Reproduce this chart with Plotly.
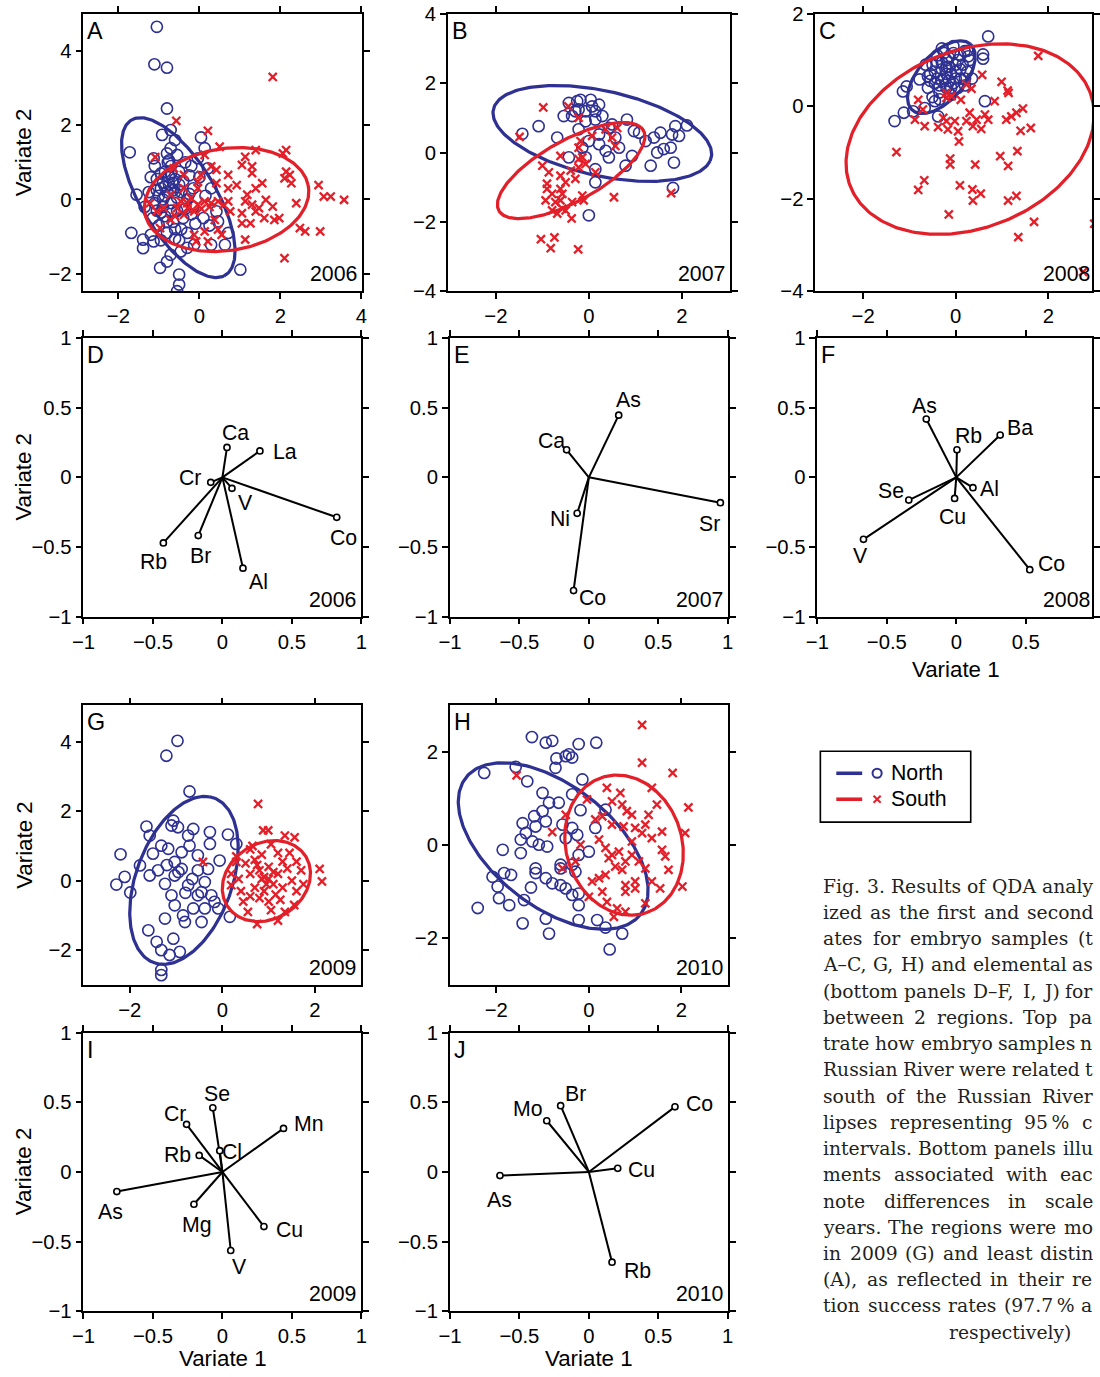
import numpy as np
import plotly.graph_objects as go

W, H = 1100, 1377
BLUE = '#2e3192'
RED = '#e3202a'
SANS = 'Liberation Sans, Arial, Helvetica, sans-serif'
SERIF = 'DejaVu Serif, serif'

# ---------------- DATA: canonical variate scores (top panels) ----------------
a_north = [(-1.05,4.65),(-1.11,3.64),(-0.80,3.55),(-0.80,2.45),(-0.71,1.87),(-0.92,1.74),(0.04,1.67),
           (-1.72,1.27),(-1.13,1.11),(-0.80,1.24),(-0.71,1.38),(0.13,1.38),(-1.55,0.13),(-1.68,-0.90),
           (-1.39,-1.08),(-1.39,-1.31),(-1.13,-1.13),(-0.97,-1.84),(-0.50,-2.02),(-0.50,-2.29),(-0.55,-2.47),
           (1.01,-1.89),(0.71,-0.90),(0.42,-0.32),(0.29,0.30),(0.21,0.84),(-0.04,1.11),(-0.71,-1.49),
           (-0.80,-1.67),(-0.46,-1.40),(-0.13,-1.22),(0.29,-1.22),(0.63,-1.22),(0.46,-0.59),
           (-0.95,0.3),(-0.85,0.1),(-0.75,0.4),(-0.9,-0.2),(-1.05,0.55),(-0.7,0.7),(-0.6,0.2),(-0.55,-0.3),
           (-0.4,0.5),(-0.3,0.0),(-0.2,-0.4),(-1.15,-0.5),(-1.0,-0.7),(-0.8,-0.9),(-0.65,-0.6),(-0.45,-0.8),
           (-0.3,-0.9),(-0.15,0.3),(0.0,0.6),(-1.25,0.2),(-1.35,-0.2),(-0.35,1.0),(-0.55,1.2),(-0.78,1.0),
           (-0.85,0.75),(-0.15,-0.2),(0.1,-0.5),(0.15,0.1),(-0.5,-1.1),(-1.1,0.9),(-1.2,-0.95),(-0.95,-1.1),
           (-0.6,-1.05),(0.25,-0.7),(-1.0,0.1),(-0.9,0.45),(-0.7,-0.1),(-0.8,0.2),(-1.1,-0.1),(-0.65,0.45),
           (-0.5,0.75),(-0.25,0.65),(-1.2,0.6),(-0.4,-0.5),(-0.85,-0.45),(-0.3,-1.3),(-0.6,1.6),(-0.75,1.05),
           (-0.9,0.0),(-0.95,-0.35),(-0.75,0.6),(-0.65,0.25),(-1.05,0.25),(-0.85,0.35),(-0.7,-0.3),
           (-0.55,0.05),(-0.6,0.55),(-0.45,0.2),(-0.35,-0.25),(-0.8,-0.6),(-1.05,-0.3),(-0.95,0.7),
           (-0.7,0.9),(-0.5,0.4),(-0.25,0.15),(-0.2,0.9),(-0.1,-0.65),(-0.6,-0.8)]
a_south = [(1.81,3.30),(-0.57,2.12),(0.21,1.85),(0.50,1.42),(-1.09,1.14),(2.14,1.33),(2.06,1.24),(1.39,1.33),
           (1.13,1.15),(1.05,0.93),(1.30,0.89),(1.30,0.71),(2.14,0.75),(2.23,0.66),(2.27,0.44),(2.10,0.57),
           (2.94,0.39),(3.07,0.08),(3.24,0.08),(3.57,-0.01),(2.39,-0.10),(2.48,-0.77),(2.61,-0.86),(2.98,-0.86),
           (2.10,-1.58),(1.97,-0.50),(1.81,-0.19),(1.64,-0.01),(1.85,-0.55),(1.60,-0.50),(1.55,0.44),(1.39,0.30),
           (1.18,0.13),(1.13,-0.05),(1.30,-0.14),(1.47,-0.23),(1.39,-0.32),(1.05,-0.37),(1.05,-0.64),(1.26,-0.64),
           (1.13,-1.08),(0.76,-0.32),(0.92,0.39),(0.71,0.30),(0.71,0.66),(0.42,0.80),(0.29,0.89),(0.04,0.66),
           (-0.04,0.48),(0.42,0.44),(0.71,-0.05),(0.29,-0.10),(0.38,-0.55),(0.46,-0.81),(0.55,-0.95),(0.13,-0.86),
           (0.21,-1.13),(-0.13,-0.95),(-0.08,-1.13),(-0.38,-0.41),(-0.55,-0.23),(-0.71,0.13),(-0.88,-0.23),
           (-0.71,-0.55),(-0.97,-0.77),(-1.05,-0.32),(-1.22,-0.10),(-0.38,0.30),(-0.21,0.04),(-0.04,-0.14),
           (0.13,-0.05),(0.46,-0.05),(-0.46,-0.05),(-0.29,-0.23),(-0.13,-0.32),(-0.63,0.84),(0.13,1.20),
           (-0.38,0.66),(-0.04,0.30),(0.05,-0.25),(0.25,-0.2),(-0.3,-0.1),(-0.6,-0.45),(0.6,-0.15)]

b_north = [(-1.43,0.54),(-1.08,0.76),(-0.68,0.43),(-0.54,1.05),(-0.43,1.43),(-0.25,1.48),(-0.18,1.52),
           (0.04,1.52),(0.07,1.33),(-0.22,1.24),(-0.36,1.05),(-0.43,-0.14),(-0.22,0.67),(-0.07,0.90),(0.14,0.95),
           (0.29,1.05),(0.22,0.52),(0.43,0.71),(0.36,0.05),(0.22,0.24),(0.0,0.33),(0.57,0.43),(0.65,0.14),
           (0.82,0.95),(0.97,0.62),(0.93,-0.10),(0.79,-0.38),(0.14,-0.86),(0.0,-1.81),(1.33,-0.38),(1.22,0.33),
           (1.40,0.43),(1.54,0.57),(1.47,0.0),(1.61,0.10),(1.76,0.14),(1.79,0.52),(1.86,0.76),(1.94,0.48),
           (2.11,0.78),(1.83,-0.29),(1.81,-1.02),(1.08,0.57),(0.50,0.81),(-0.14,0.14),(-0.07,-0.14),(0.14,-0.48),
           (-0.29,1.19),(-0.07,1.19),(0.14,1.19),(0.22,1.38),(0.43,-0.14)]
b_south = [(-0.98,1.30),(-1.49,0.45),(-0.44,1.33),(-0.22,1.0),(0.07,0.48),(0.36,0.67),(0.50,0.43),(0.61,0.71),
           (0.57,0.19),(-0.18,0.33),(-0.22,0.14),(-0.14,-0.14),(-0.07,-0.33),(0.14,-0.57),(-0.22,-0.43),
           (-0.61,-0.10),(-1.0,-0.38),(-0.86,-0.57),(-0.61,-0.67),(-0.39,-0.52),(-0.29,-0.76),(-0.90,-0.90),
           (-0.90,-1.05),(-0.61,-1.05),(-0.57,-1.19),(-0.61,-1.38),(-0.93,-1.38),(-0.72,-1.43),(-0.79,-1.67),
           (-0.57,-1.62),(-0.50,-1.67),(-0.68,-1.76),(-0.36,-1.43),(-0.37,-1.90),(-0.14,-1.24),(-0.11,-1.38),
           (0.54,-1.29),(-1.03,-2.50),(-0.74,-2.45),(-0.82,-2.76),(-0.23,-2.79),(1.77,-1.17),(-0.79,-1.19),
           (-0.50,-0.86),(-0.22,-0.19)]

c_north = [(0.70,1.51),(0.59,1.12),(0.59,1.03),(0.63,0.11),(-1.32,-0.32),(-1.12,-0.14),(-0.92,-0.11),
           (-1.14,0.32),(-1.06,0.43),(-0.78,0.58),(-0.45,0.11),(-0.38,-0.22),(-0.67,-0.04),(0.19,1.19),
           (0.27,1.08),(-0.5,0.9),(-0.4,0.6),(-0.3,0.8),(-0.2,1.0),(-0.1,0.7),(0.0,0.9),(0.1,0.6),(-0.2,0.4),
           (-0.35,0.3),(-0.45,0.5),(-0.55,0.7),(0.15,0.9),(-0.05,1.15),(-0.25,1.15),(0.05,0.4),(-0.15,0.55),
           (0.2,0.45),(-0.6,0.4),(-0.3,1.25),(0.25,0.75),(-0.4,0.95),(-0.1,0.25),(0.0,0.75),(-0.2,0.7),
           (-0.5,0.2),(0.3,1.0),(0.35,0.6),(-0.65,0.9),(-0.05,1.3),(0.1,1.1),(-0.3,0.55),(-0.15,0.85),
           (-0.45,0.75),(-0.35,0.45),(-0.25,0.6),(-0.15,1.05),(-0.05,0.5),(0.05,1.0),(0.1,0.8),(-0.3,0.95),
           (-0.55,0.55),(-0.4,1.1),(0.2,0.6),(-0.2,0.85),(-0.1,0.4),(0.0,0.6),(-0.6,0.65),(0.25,1.2),(-0.35,0.15)]
c_south = [(1.78,1.09),(0.57,0.68),(0.99,0.53),(1.12,0.34),(1.14,0.29),(0.84,0.11),(0.23,0.47),(0.34,0.38),
           (-0.20,0.29),(-0.09,0.22),(0.11,0.14),(-0.20,0.18),(-0.81,0.14),(-0.71,-0.07),(-0.88,-0.29),
           (-0.67,-0.43),(-0.38,-0.45),(-0.27,-0.25),(-0.20,-0.32),(-0.17,-0.50),(0.05,-0.54),(0.07,-0.76),
           (-0.02,-0.32),(0.23,-0.32),(0.37,-0.43),(0.30,-0.14),(0.45,-0.29),(0.55,-0.49),(0.63,-0.18),
           (0.70,-0.29),(1.09,-0.29),(1.20,-0.22),(1.31,-0.14),(1.45,-0.05),(1.40,-0.53),(1.62,-0.47),
           (-1.28,-0.99),(-0.12,-1.13),(-0.12,-1.26),(0.42,-1.26),(0.96,-1.08),(1.13,-1.29),(1.33,-0.97),
           (-0.68,-1.60),(-0.81,-1.81),(0.09,-1.71),(0.36,-1.80),(0.54,-1.89),(0.37,-2.04),(1.13,-2.04),
           (1.31,-1.94),(-0.15,-2.34),(1.69,-2.50),(1.35,-2.83),(2.99,-2.54),(2.75,-3.58)]

g_north = [(-0.97,4.03),(-1.21,3.60),(-0.71,2.57),(-2.20,0.76),(-2.11,0.11),(-2.29,-0.11),(-1.99,-0.34),
           (-1.64,1.56),(-1.57,1.30),(-1.10,1.59),(-1.06,1.73),(-0.96,1.54),(-0.63,1.49),(-0.27,1.40),
           (-0.27,1.06),(0.12,1.33),(0.30,1.06),(-0.06,0.58),(-0.74,1.30),(-0.71,1.01),(-1.32,1.01),
           (-1.50,0.78),(-1.78,0.44),(-1.57,0.15),(-1.39,0.30),(-1.24,-0.09),(-1.03,0.54),(-0.88,0.34),
           (-0.53,0.30),(-0.38,-0.04),(-0.24,-0.42),(-0.09,-0.80),(-0.17,-0.61),(-0.45,-1.19),(-0.63,-0.80),
           (-0.81,-1.19),(-1.24,-1.09),(-1.60,-1.43),(-1.42,-1.76),(-1.32,-2.00),(-1.06,-1.67),(-1.14,-2.14),
           (-0.92,-2.05),(-1.32,-2.57),(-1.32,-2.72),(0.16,-1.04),(-1.10,-0.42),(-1.03,-0.71),(-0.85,-1.00),
           (-0.53,-0.42),(-0.38,-0.80),(-0.45,-0.33),(-0.74,-0.13),(-1.03,0.15),(-0.88,0.82),(-1.17,0.92),
           (-0.53,0.73),(-0.31,0.34),(-0.95,0.25),(-0.65,0.05),(-0.8,-0.35),(-1.2,0.45)]
g_south = [(0.77,2.21),(0.88,1.45),(0.99,1.45),(1.35,1.30),(1.56,1.25),(-0.42,0.54),(2.10,0.34),(2.15,-0.02),
           (0.19,0.20),(0.19,-0.13),(0.30,0.54),(0.5,0.5),(0.6,0.2),(0.7,0.6),(0.8,0.3),(0.9,0.1),(1.0,0.4),
           (1.1,-0.1),(1.2,0.2),(0.7,-0.2),(0.8,-0.5),(0.9,-0.3),(1.0,-0.6),(1.15,-0.4),(1.3,-0.2),(1.4,0.35),
           (1.5,0.0),(1.6,-0.3),(1.7,0.3),(1.45,0.8),(1.2,0.8),(0.6,0.9),(0.45,-0.6),(0.55,-0.9),(0.75,-1.25),
           (1.2,-1.15),(1.35,-0.9),(1.55,-0.7),(0.35,0.05),(0.4,-0.3),(0.85,0.75),(1.05,1.05),(0.65,1.0),
           (1.3,0.55),(1.0,0.05),(0.95,-0.1),(0.85,0.05),(1.1,0.25),(0.75,0.45),(0.6,-0.45),(1.25,-0.55),
           (1.6,0.55),(1.75,-0.1),(0.3,0.7),(1.05,-0.85)]

h_north = [(-1.23,2.32),(-0.93,2.20),(-0.79,2.24),(-0.22,2.17),(0.16,2.20),(-0.43,1.95),(-0.70,1.86),
           (-0.72,1.66),(-0.50,1.91),(-0.36,1.88),(-2.26,1.55),(-1.58,1.68),(-1.33,1.37),(-0.14,1.41),
           (-1.0,1.12),(-0.36,1.09),(-0.86,0.91),(-0.65,0.91),(-0.18,0.75),(-1.0,0.73),(-1.18,0.62),
           (-1.43,0.47),(-1.15,0.40),(-0.93,0.51),(-0.57,0.44),(-0.36,0.37),(-0.25,0.22),(0.14,0.37),
           (0.36,0.76),(-1.36,0.26),(-1.47,0.12),(-1.22,0.08),(-1.08,0.01),(-0.90,-0.03),(-1.86,-0.10),
           (-1.47,-0.17),(-1.15,-0.50),(-1.15,-0.60),(-2.08,-0.68),(-1.83,-0.60),(-1.68,-0.64),(-1.97,-0.89),
           (-1.94,-1.14),(-1.72,-1.29),(-2.40,-1.35),(-1.40,-1.18),(-1.25,-0.91),(-0.93,-0.71),(-0.79,-0.82),
           (-0.61,-0.86),(-0.50,-0.93),(-0.36,-1.07),(-0.22,-1.04),(-0.61,-0.42),(-0.36,-0.42),(0.0,-0.14),
           (-0.22,-1.29),(-0.22,-1.61),(-1.43,-1.68),(-0.93,-1.58),(-0.86,-1.90),(0.18,-1.61),(0.36,-1.77),
           (0.72,-1.90),(0.45,-2.24),(-0.61,-0.50),(-0.29,-0.57),(-0.50,0.15),(-0.22,-0.21)]
h_south = [(1.15,2.58),(1.15,1.77),(1.81,1.55),(-1.56,1.50),(2.15,0.81),(2.08,0.26),(2.02,-0.89),(-0.79,0.28),
           (-0.57,-0.50),(-0.50,0.65),(0.39,1.23),(0.68,1.12),(0.50,0.94),(0.82,0.73),(0.72,0.87),(0.93,0.65),
           (0.14,0.55),(0.29,0.62),(0.50,0.44),(0.75,0.40),(1.0,0.37),(1.22,0.44),(1.36,1.23),(1.47,0.87),
           (1.29,0.65),(1.15,0.26),(1.36,0.15),(0.93,0.08),(1.58,0.29),(1.72,-0.53),(1.54,-0.93),(1.36,-0.78),
           (1.22,-0.50),(1.08,-0.35),(0.93,-0.21),(0.79,-0.35),(0.65,-0.14),(0.50,-0.21),(0.36,-0.06),
           (0.43,-0.28),(0.57,-0.46),(0.72,-0.53),(0.36,-0.64),(0.22,-0.71),(0.07,-0.78),(-0.18,0.01),
           (-0.29,-0.35),(-0.04,0.98),(1.0,-0.93),(0.79,-0.86),(0.79,-1.0),(0.29,-1.0),(0.39,-1.22),(0.61,-1.36),
           (0.54,-1.54),(0.79,-1.43),(1.22,-1.25),(1.0,-0.78),(1.58,-0.10),(0.22,0.12),(0.0,-1.11),(1.65,-0.24)]

# 95% confidence ellipses: (centre v1, centre v2, semi-major, semi-minor, rotation deg)
ell_a_north = (-0.52, 0.05, 2.39, 0.94, -61.8)
ell_a_south = (0.67, 0.0, 2.05, 1.37, 11.0)
ell_b_north = (0.29, 0.55, 2.45, 1.20, -18.8)
ell_b_south = (-0.38, -0.52, 1.95, 0.80, 39.6)
ell_c_north = (-0.31, 0.63, 0.95, 0.50, 48.7)
ell_c_south = (0.31, -0.71, 2.78, 1.92, 21.8)
ell_g_north = (-0.83, 0.01, 2.47, 1.06, 77.1)
ell_g_south = (0.95, -0.01, 1.20, 0.91, 69.0)
ell_h_north = (-0.77, -0.02, 2.39, 1.30, -37.8)
ell_h_south = (0.76, 0.0, 1.53, 1.25, -71.8)

# ---------------- DATA: elemental loadings (bottom panels) ----------------
d_elem = ['Ca', 'La', 'Cr', 'V', 'Co', 'Rb', 'Br', 'Al']
d_v1 = [0.033, 0.27, -0.084, 0.069, 0.823, -0.425, -0.174, 0.148]
d_v2 = [0.215, 0.19, -0.036, -0.079, -0.287, -0.471, -0.418, -0.652]
e_elem = ['As', 'Ca', 'Ni', 'Co', 'Sr']
e_v1 = [0.215, -0.16, -0.084, -0.11, 0.947]
e_v2 = [0.447, 0.198, -0.258, -0.813, -0.182]
f_elem = ['As', 'Rb', 'Ba', 'Se', 'Al', 'Cu', 'V', 'Co']
f_v1 = [-0.216, 0.005, 0.316, -0.342, 0.12, -0.012, -0.668, 0.529]
f_v2 = [0.419, 0.198, 0.304, -0.163, -0.074, -0.151, -0.445, -0.663]
i_elem = ['Se', 'Cr', 'Mn', 'Rb', 'Cl', 'As', 'Mg', 'Cu', 'V']
i_v1 = [-0.069, -0.258, 0.44, -0.167, -0.019, -0.76, -0.205, 0.299, 0.06]
i_v2 = [0.461, 0.342, 0.313, 0.119, 0.153, -0.141, -0.232, -0.392, -0.564]
j_elem = ['Br', 'Mo', 'Co', 'Cu', 'As', 'Rb']
j_v1 = [-0.203, -0.303, 0.62, 0.208, -0.64, 0.167]
j_v2 = [0.476, 0.368, 0.468, 0.026, -0.026, -0.648]

years = ['2006', '2007', '2008', '2009', '2010']

caption_lines = [
    'Fig. 3. Results of QDA analy',
    'ized as the first and second',
    'ates for embryo samples (t',
    'A–C, G, H) and elemental as',
    '(bottom panels D–F, I, J) for',
    'between 2 regions. Top pa',
    'trate how embryo samples n',
    'Russian River were related t',
    'south of the Russian River',
    'lipses representing 95\u2009% c',
    'intervals. Bottom panels illu',
    'ments associated with eac',
    'note differences in scale',
    'years. The regions were mo',
    'in 2009 (G) and least distin',
    '(A), as reflected in their re',
    'tion success rates (97.7\u2009% a',
]
caption_last = 'respectively)'

# label pixel offsets (style) for element names
off_d = {'Ca': (8, 14), 'La': (25, -1), 'Cr': (-20, 4), 'V': (13, -14), 'Co': (7, -20),
         'Rb': (-10, -19), 'Br': (2, -20), 'Al': (15, -14)}
off_e = {'As': (10, 15), 'Ca': (-15, 9), 'Ni': (-17, -6), 'Co': (19, -7), 'Sr': (-11, -21)}
off_f = {'As': (-2, 13), 'Rb': (11, 14), 'Ba': (20, 7), 'Se': (-18, 9), 'Al': (16, -1),
         'Cu': (-2, -18), 'V': (-3, -16), 'Co': (21, 6)}
off_i = {'Se': (4, 14), 'Cr': (-11, 10), 'Mn': (25, 4), 'Rb': (-21, 0), 'Cl': (12, -1),
         'As': (-6, -20), 'Mg': (3, -20), 'Cu': (25, -3), 'V': (9, -16)}
off_j = {'Br': (15, 12), 'Mo': (-18, 12), 'Co': (24, 3), 'Cu': (23, -2), 'As': (0, -24), 'Rb': (25, -9)}

# ---------------- placement helpers (target-image pixels -> page) ----------------
OX, OY, S = 10.2, 10.2, 0.986


def fx(x):
    return (x - OX) / S / W


def fy(y):
    return 1 - (y - OY) / S / H


def k(v):
    return v / S


fig = go.Figure()
layout = dict(width=W, height=H, autosize=False, margin=dict(l=0, r=0, t=0, b=0, pad=0),
              paper_bgcolor='white', plot_bgcolor='rgba(0,0,0,0)', showlegend=False,
              font=dict(family=SANS, color='black'))
annotations = []
shapes = []


def axis_common():
    return dict(showline=True, linecolor='black', linewidth=k(1.6), mirror='ticks', ticks='outside',
                ticklen=k(6), tickwidth=k(1.5), tickcolor='black', showgrid=False, zeroline=False,
                tickfont=dict(family=SANS, size=k(20), color='black'), fixedrange=True)


def akey(prefix, idx):
    return prefix if idx == 1 else '%s%d' % (prefix, idx)


def make_axes(idx, box, xr, yr, xt, yt):
    l, t, r, b = box
    x0, x1 = fx(l), fx(r)
    xr = list(xr)
    if x1 > 1:
        xr[1] = xr[0] + (1 - x0) / (x1 - x0) * (xr[1] - xr[0])
        x1 = 1.0
    y0, y1 = fy(b), fy(t)
    yr = list(yr)
    if y1 > 1:
        yr[1] = yr[0] + (1 - y0) / (y1 - y0) * (yr[1] - yr[0])
        y1 = 1.0
    xa = axis_common()
    xa.update(domain=[x0, x1], range=xr, tickvals=xt, anchor=akey('y', idx))
    ya = axis_common()
    ya.update(domain=[y0, y1], range=yr, tickvals=yt, anchor=akey('x', idx))
    layout[akey('xaxis', idx)] = xa
    layout[akey('yaxis', idx)] = ya


def refs(idx):
    return akey('x', idx), akey('y', idx)


def ellipse(p):
    cx, cy, a, b, th = p
    t = np.linspace(0, 2 * np.pi, 241)
    r = np.deg2rad(th)
    x = cx + a * np.cos(t) * np.cos(r) - b * np.sin(t) * np.sin(r)
    y = cy + a * np.cos(t) * np.sin(r) + b * np.sin(t) * np.cos(r)
    return x, y


def text_ann(x, y, text, size, xa='center', ya='middle', family=SANS, angle=0, color='black'):
    annotations.append(dict(xref='paper', yref='paper', x=fx(x), y=fy(y), text=text, showarrow=False,
                            xanchor=xa, yanchor=ya, textangle=angle,
                            font=dict(family=family, size=k(size), color=color)))


def panel_label(box, letter, year):
    l, t, r, b = box
    text_ann(l + 2, t + 2, letter, 23, xa='left', ya='top')
    text_ann(r - 3, b - 3, year, 21, xa='right', ya='bottom')


def scatter_panel(idx, box, xr, yr, xt, yt, north, south, en, es, letter, year):
    make_axes(idx, box, xr, yr, xt, yt)
    xref, yref = refs(idx)
    nx, ny = zip(*north)
    sx, sy = zip(*south)
    fig.add_trace(go.Scatter(x=nx, y=ny, mode='markers', xaxis=xref, yaxis=yref,
                             marker=dict(symbol='circle-open', size=k(11), color=BLUE,
                                         line=dict(color=BLUE, width=k(1.6)))))
    ex, ey = ellipse(en)
    fig.add_trace(go.Scatter(x=ex, y=ey, mode='lines', xaxis=xref, yaxis=yref,
                             line=dict(color=BLUE, width=k(3.2))))
    fig.add_trace(go.Scatter(x=sx, y=sy, mode='markers', xaxis=xref, yaxis=yref,
                             marker=dict(symbol='x-thin-open', size=k(8), color=RED,
                                         line=dict(color=RED, width=k(2.3)))))
    ex, ey = ellipse(es)
    fig.add_trace(go.Scatter(x=ex, y=ey, mode='lines', xaxis=xref, yaxis=yref,
                             line=dict(color=RED, width=k(3.2))))
    panel_label(box, letter, year)


def biplot_panel(idx, box, elem, v1, v2, offs, letter, year):
    ticks = [-1, -0.5, 0, 0.5, 1]
    make_axes(idx, box, [-1, 1], [-1, 1], ticks, ticks)
    xref, yref = refs(idx)
    for e, a, b in zip(elem, v1, v2):
        fig.add_trace(go.Scatter(x=[0, a], y=[0, b], mode='lines', xaxis=xref, yaxis=yref,
                                 line=dict(color='black', width=k(2))))
    fig.add_trace(go.Scatter(x=v1, y=v2, mode='markers', xaxis=xref, yaxis=yref,
                             marker=dict(symbol='circle', size=k(6), color='white',
                                         line=dict(color='black', width=k(1.6)))))
    for e, a, b in zip(elem, v1, v2):
        ox, oy = offs[e]
        annotations.append(dict(xref=xref, yref=yref, x=a, y=b, xshift=k(ox), yshift=k(oy), text=e,
                                showarrow=False, xanchor='center', yanchor='middle',
                                font=dict(family=SANS, size=k(21), color='black')))
    panel_label(box, letter, year)


# score panels
scatter_panel(1, (82, 13, 362, 291), [-2.86, 4.02], [-2.47, 5.0], [-2, 0, 2, 4], [-2, 0, 2, 4],
              a_north, a_south, ell_a_north, ell_a_south, 'A', years[0])
scatter_panel(2, (448, 13, 731, 291), [-3.03, 3.03], [-4, 4], [-2, 0, 2], [-4, -2, 0, 2, 4],
              b_north, b_south, ell_b_north, ell_b_south, 'B', years[1])
scatter_panel(3, (817, 13, 1098, 291), [-3.03, 3.01], [-4, 2], [-2, 0, 2], [-4, -2, 0, 2],
              c_north, c_south, ell_c_north, ell_c_south, 'C', years[2])
scatter_panel(7, (82, 706, 361, 986), [-3, 3], [-3, 5.05], [-2, 0, 2], [-2, 0, 2, 4],
              g_north, g_south, ell_g_north, ell_g_south, 'G', years[3])
scatter_panel(8, (450, 706, 729, 986), [-3, 3], [-3, 3], [-2, 0, 2], [-2, 0, 2],
              h_north, h_south, ell_h_north, ell_h_south, 'H', years[4])

# loading panels
biplot_panel(4, (82, 338, 361, 617), d_elem, d_v1, d_v2, off_d, 'D', years[0])
biplot_panel(5, (450, 338, 729, 617), e_elem, e_v1, e_v2, off_e, 'E', years[1])
biplot_panel(6, (819, 338, 1098, 617), f_elem, f_v1, f_v2, off_f, 'F', years[2])
biplot_panel(9, (82, 1034, 361, 1313), i_elem, i_v1, i_v2, off_i, 'I', years[3])
biplot_panel(10, (450, 1034, 729, 1313), j_elem, j_v1, j_v2, off_j, 'J', years[4])

# axis titles
for yc in [152, 477, 846, 1173]:
    text_ann(22, yc, 'Variate 2', 22, angle=-90)
for xc, yc in [(958, 670), (222, 1360), (590, 1360)]:
    text_ann(xc, yc, 'Variate 1', 22)

# legend (overlay axis whose units are target-image pixels)
layout['xaxis11'] = dict(domain=[0, 1], range=[OX, OX + S * W], visible=False, anchor='y11', fixedrange=True)
layout['yaxis11'] = dict(domain=[0, 1], range=[OY + S * H, OY], visible=False, anchor='x11', fixedrange=True)
shapes.append(dict(type='rect', xref='paper', yref='paper', x0=fx(822), x1=fx(973),
                   y0=fy(823), y1=fy(752), line=dict(color='black', width=k(1.6))))
for col, yy, sym, name in [(BLUE, 774, 'circle-open', 'North'), (RED, 800, 'x-thin-open', 'South')]:
    fig.add_trace(go.Scatter(x=[838, 864], y=[yy, yy], mode='lines', xaxis='x11', yaxis='y11',
                             line=dict(color=col, width=k(3.5))))
    fig.add_trace(go.Scatter(x=[879], y=[yy], mode='markers', xaxis='x11', yaxis='y11',
                             marker=dict(symbol=sym, size=k(9 if sym == 'circle-open' else 7), color=col,
                                         line=dict(color=col, width=k(2)))))
    text_ann(891, yy, name, 21, xa='left')

# caption: justified word placement (DejaVu Serif advance widths, em)
CW = {' ': .318, '\u2009': .2, '.': .318, ',': .318, '(': .39, ')': .39, '%': .95, '–': .5,
      'a': .596, 'b': .64, 'c': .56, 'd': .64, 'e': .592, 'f': .37, 'g': .64, 'h': .644, 'i': .32,
      'j': .31, 'k': .606, 'l': .32, 'm': .948, 'n': .644, 'o': .602, 'p': .64, 'q': .64, 'r': .478,
      's': .513, 't': .402, 'u': .644, 'v': .565, 'w': .856, 'x': .564, 'y': .565, 'z': .527,
      'A': .722, 'B': .735, 'C': .765, 'D': .802, 'F': .694, 'G': .799, 'H': .872, 'I': .395,
      'J': .401, 'Q': .82, 'R': .77, 'S': .685, 'T': .668}
CAP_FS, CAP_L, CAP_R, CAP_Y0, CAP_DY = 18.5, 823, 1093, 887, 26.3


def tw(s):
    return sum(CW.get(c, .636 if c.isdigit() else .6) for c in s) * CAP_FS


for i, line in enumerate(caption_lines):
    yc = CAP_Y0 + i * CAP_DY
    words = line.split(' ')
    widths = [tw(w) for w in words]
    gap = (CAP_R - CAP_L - sum(widths)) / (len(words) - 1)
    gap = max(gap, CW[' '] * CAP_FS)
    x = CAP_L
    for w, wd in zip(words, widths):
        text_ann(x, yc, w, CAP_FS, xa='left', family=SERIF, color='#231f20')
        x += wd + gap
text_ann(1012, CAP_Y0 + len(caption_lines) * CAP_DY, caption_last, CAP_FS, family=SERIF, color='#231f20')

layout['annotations'] = annotations
layout['shapes'] = shapes
fig.update_layout(**layout)

pin_page = (
    "var gd=document.getElementById('{plot_id}');"
    "document.documentElement.style.cssText='margin:0;padding:0;border:0;overflow:hidden;width:1100px;height:1377px;';"
    "document.body.style.cssText='margin:0;padding:0;border:0;overflow:hidden;width:1100px;height:1377px;';"
    "gd.style.position='fixed';gd.style.left='0px';gd.style.top='0px';gd.style.margin='0';"
)
fig.write_html('out.html', config={'displayModeBar': False}, post_script=pin_page)
